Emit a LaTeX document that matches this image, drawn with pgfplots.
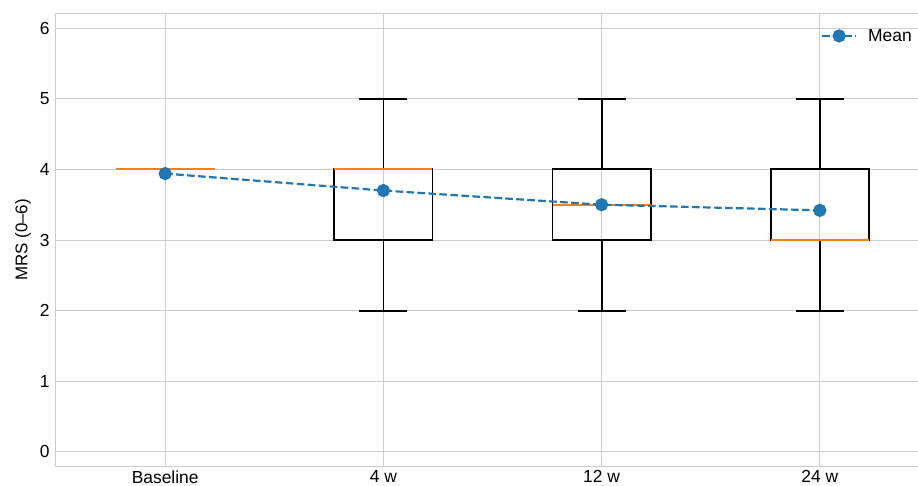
\documentclass[border=0pt]{standalone}
\usepackage{fontspec}
\setmainfont{Liberation Sans}
\usepackage{pgfplots}
\pgfplotsset{compat=1.18}
\usepgfplotslibrary{statistics}
\definecolor{mplblue}{HTML}{1F77B4}
\definecolor{mplorange}{HTML}{FF7F0E}
\definecolor{gridgray}{HTML}{CCCCCC}
\begin{document}
\begin{tikzpicture}[x=1bp,y=1bp]
\begin{axis}[
  scale only axis,
  width=863bp, height=452bp,
  xmin=0.495, xmax=4.45,
  ymin=-0.2, ymax=6.2,
  xtick={1,2,3,4},
  xticklabels={Baseline,4 w,12 w,24 w},
  ytick={0,1,2,3,4,5,6},
  grid=major,
  major grid style={draw=gridgray, line width=0.9bp},
  axis line style={draw=gridgray, line width=1bp},
  axis x line*=bottom,
  axis y line*=left,
  major tick length=0pt,
  tick label style={font=\fontsize{17.5}{20}\selectfont},
  /pgf/number format/assume math mode=true,
  xticklabel style={yshift=-1bp},
  yticklabel style={xshift=-2bp},
  ylabel={MRS (0–6)},
  ylabel style={font=\fontsize{17}{20}\selectfont, yshift=2bp},
  legend style={at={(rel axis cs:1,1)}, anchor=north east, draw=none, fill=none,
    font=\fontsize{17.5}{20}\selectfont, inner sep=1bp, yshift=-12bp, xshift=-3bp,
    /tikz/every odd column/.style={column sep=9bp}},
  legend cell align=left,
  legend image code/.code={\draw[#1, mark repeat=2, mark phase=2]
    plot coordinates {(0bp,0bp) (17bp,0bp) (34bp,0bp)};},
  boxplot/draw direction=y,
  boxplot/every median/.style={draw=none},
  boxplot/every box/.style={draw=black, line width=1.8bp},
  boxplot/every whisker/.style={draw=black, line width=1.8bp},
  clip=false,
]
\draw[gridgray, line width=1bp] (rel axis cs:0,1) -- (rel axis cs:1,1);
\addplot+[forget plot, black, solid, mark=none, line width=1.8bp,
  boxplot prepared={draw position=1, lower whisker=4, lower quartile=4, median=4,
  upper quartile=4, upper whisker=4, box extend=0.45, whisker extend=0.22}] coordinates {};
\addplot+[forget plot, black, solid, mark=none, line width=1.8bp,
  boxplot prepared={draw position=2, lower whisker=2, lower quartile=3, median=4,
  upper quartile=4, upper whisker=5, box extend=0.45, whisker extend=0.22}] coordinates {};
\addplot+[forget plot, black, solid, mark=none, line width=1.8bp,
  boxplot prepared={draw position=3, lower whisker=2, lower quartile=3, median=3.5,
  upper quartile=4, upper whisker=5, box extend=0.45, whisker extend=0.22}] coordinates {};
\addplot+[forget plot, black, solid, mark=none, line width=1.8bp,
  boxplot prepared={draw position=4, lower whisker=2, lower quartile=3, median=3,
  upper quartile=4, upper whisker=5, box extend=0.45, whisker extend=0.22}] coordinates {};
% medians
\addplot[forget plot, mplorange, line width=1.8bp] coordinates {(0.775,4) (1.225,4)};
\addplot[forget plot, mplorange, line width=1.8bp] coordinates {(1.775,4) (2.225,4)};
\addplot[forget plot, mplorange, line width=1.8bp] coordinates {(2.775,3.5) (3.225,3.5)};
\addplot[forget plot, mplorange, line width=1.8bp] coordinates {(3.775,3) (4.225,3)};
\addplot[color=mplblue, line width=2.2bp, dash pattern=on 7.6bp off 3.4bp,
  mark=*, mark size=5.5bp, mark options={solid, fill=mplblue, draw=mplblue}]
  coordinates {(1,3.94) (2,3.70) (3,3.50) (4,3.42)};
\addlegendentry{Mean}
\end{axis}
\pgfresetboundingbox
\path[use as bounding box] (-55bp,-20bp) rectangle (863bp,466bp);
\end{tikzpicture}
\end{document}
